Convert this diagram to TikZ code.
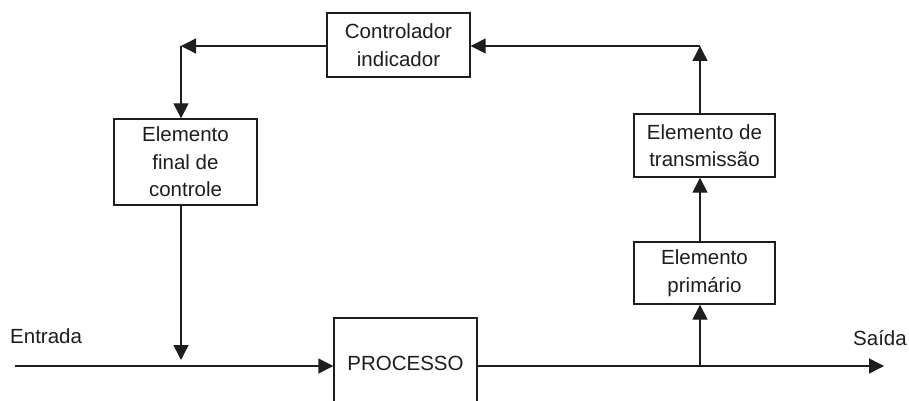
\documentclass[tikz,border=0pt]{standalone}
\usepackage{fontspec}
\setmainfont{Liberation Sans}
\usetikzlibrary{arrows.meta}
\definecolor{ink}{RGB}{30,30,30}
\begin{document}
\begin{tikzpicture}[x=1pt,y=-1pt,
  box/.style={draw=ink, line width=1.4pt, inner sep=0pt, align=center,
    font=\fontsize{20.5}{27.5}\selectfont, text=ink},
  lbl/.style={font=\fontsize{20.5}{24}\selectfont, text=ink, inner sep=0pt},
  conn/.style={draw=ink, line width=1.4pt},
  arr/.style={conn, -{Triangle[length=15pt,width=15pt]}}]
\clip (0,0) rectangle (909,401);
\fill[white] (0,0) rectangle (909,401);
\node[box, minimum width=143pt, minimum height=64pt] (ctrl) at (398.5,45) {Controlador\\indicador};
\node[box, minimum width=143pt, minimum height=86pt] (efc) at (185.5,162) {Elemento\\final de\\controle};
\node[box, minimum width=141pt, minimum height=63pt] (etr) at (704.5,145.5) {Elemento de\\transmissão};
\node[box, minimum width=141pt, minimum height=62pt] (epr) at (704.5,273) {Elemento\\primário};
\node[box, minimum width=143pt, minimum height=96pt, text height=15pt, text depth=7pt] (proc) at (405.5,366) {PROCESSO};
\node[lbl, anchor=base west] (entrada) at (10,343) {Entrada};
\node[lbl, anchor=base west] (saida) at (853,345) {Saída};
\coordinate (in) at (15,366);
\coordinate (out) at (884,366);
\coordinate (br) at (700,366);
\coordinate (tr) at (700,46);
\coordinate (tl) at (181,46);
\coordinate (drop) at (181,360);
\draw[arr] (in) -- (proc.west);
\draw[arr] (proc.east) -- (out);
\draw[arr] (br) -- (epr.south -| br);
\draw[arr] (epr.north -| br) -- (etr.south -| br);
\draw[arr] (etr.north -| br) -- (tr);
\draw[arr] (tr) -- (ctrl.east |- tr);
\draw[arr] (ctrl.west |- tl) -- (tl);
\draw[arr] (tl) -- (efc.north -| tl);
\draw[arr] (efc.south -| tl) -- (drop);
\end{tikzpicture}
\end{document}
